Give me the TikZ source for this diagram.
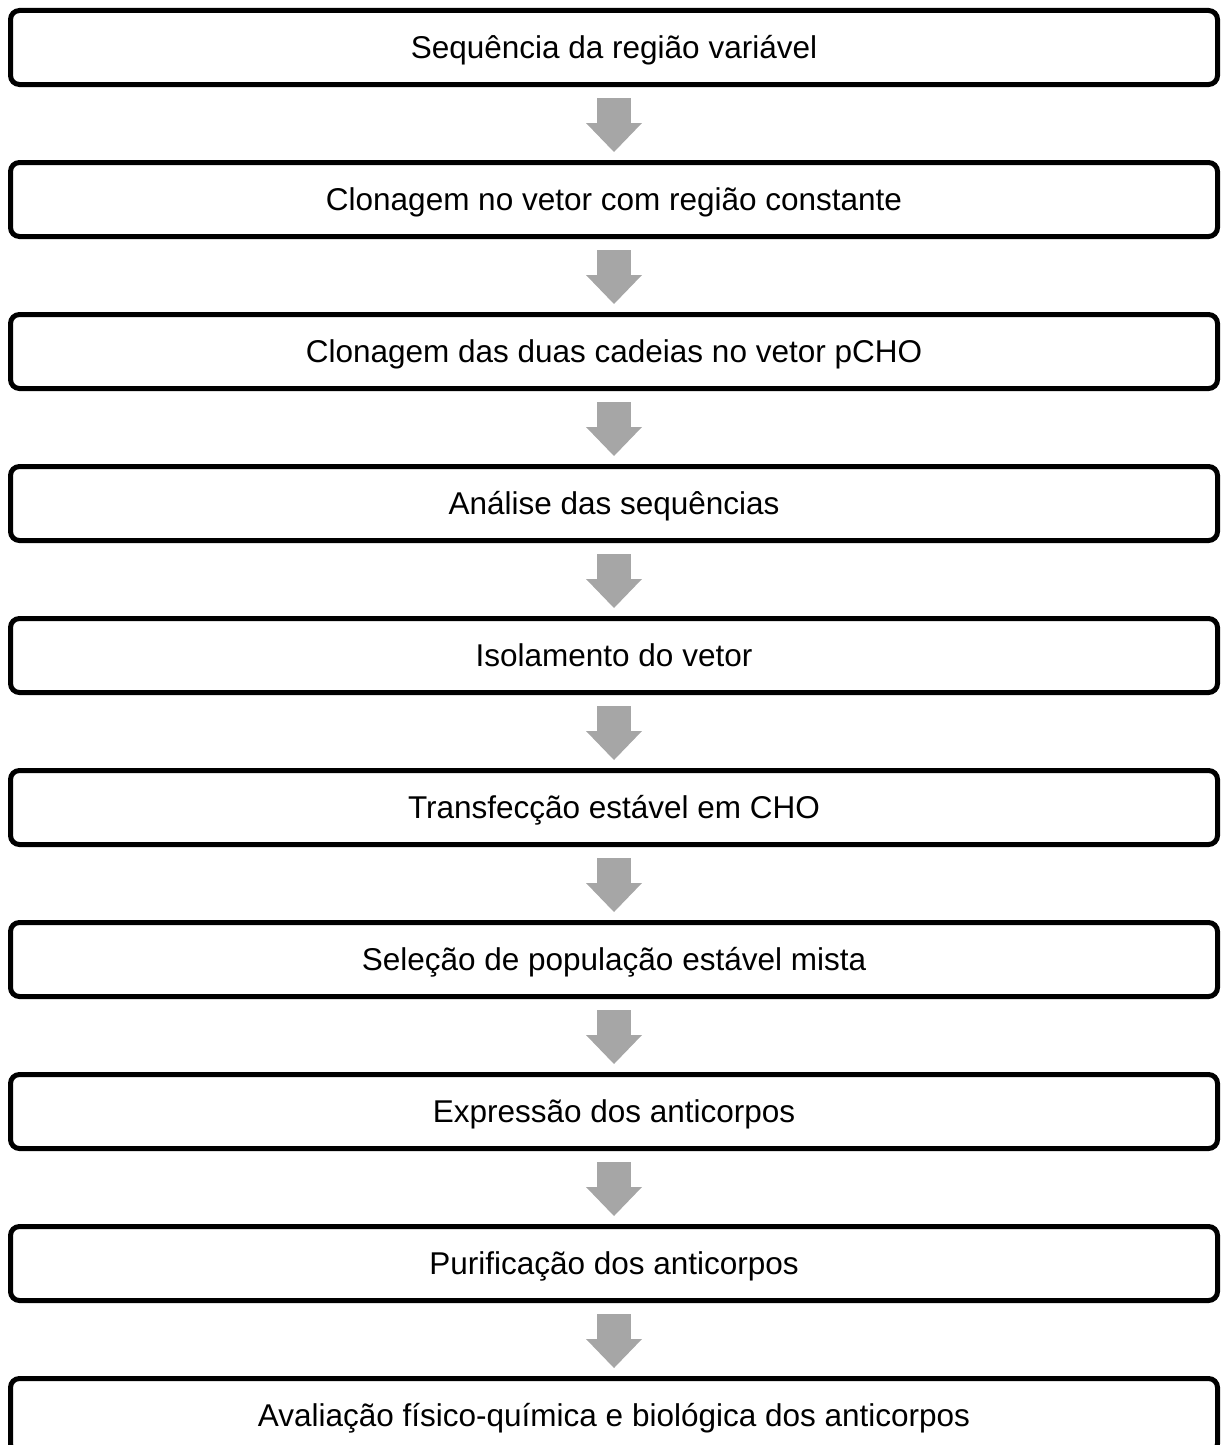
\documentclass[tikz,border=0pt]{standalone}
\usepackage{fontspec}
\setmainfont{Liberation Sans}
\usepackage{tikz}
\usetikzlibrary{arrows.meta,positioning}
\definecolor{arrowgray}{HTML}{A6A6A6}

\begin{document}
\begin{tikzpicture}[x=1pt,y=1pt,
  box/.style={draw,line width=5pt,rounded corners=9pt,minimum width=1207pt,minimum height=74pt,inner sep=0pt,text height=24pt,text depth=2.4pt,font=\fontsize{31.5pt}{36pt}\selectfont},
  flow/.style={draw=arrowgray,line width=34pt,-{Triangle[width=56pt,length=29pt,line width=0pt]},shorten <=11pt,shorten >=8pt},
  node distance=73pt]
\useasboundingbox (0,0) rectangle (1221,-1445);
\node[box] (a) at (614,-47.5) {Sequência da região variável};
\node[box,below=of a] (b) {Clonagem no vetor com região constante};
\node[box,below=of b] (c) {Clonagem das duas cadeias no vetor pCHO};
\node[box,below=of c] (d) {Análise das sequências};
\node[box,below=of d] (e) {Isolamento do vetor};
\node[box,below=of e] (f) {Transfecção estável em CHO};
\node[box,below=of f] (g) {Seleção de população estável mista};
\node[box,below=of g] (h) {Expressão dos anticorpos};
\node[box,below=of h] (i) {Purificação dos anticorpos};
\node[box,below=of i] (j) {Avaliação físico-química e biológica dos anticorpos};
\draw[flow] (a) -- (b);
\draw[flow] (b) -- (c);
\draw[flow] (c) -- (d);
\draw[flow] (d) -- (e);
\draw[flow] (e) -- (f);
\draw[flow] (f) -- (g);
\draw[flow] (g) -- (h);
\draw[flow] (h) -- (i);
\draw[flow] (i) -- (j);
\end{tikzpicture}
\end{document}
